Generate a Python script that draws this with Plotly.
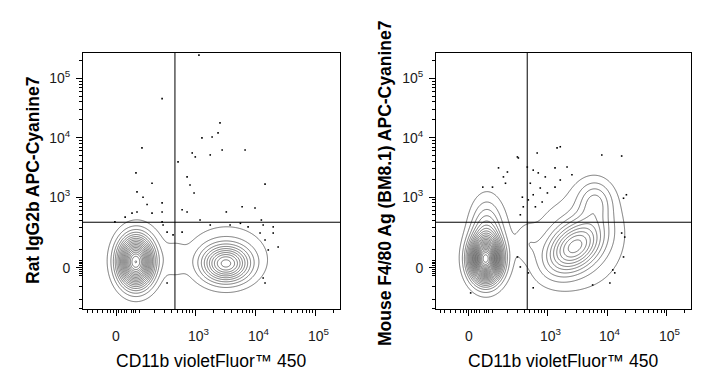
import numpy as np
import plotly.graph_objects as go

W, H = 727, 390
FONT = "Arial, Liberation Sans, sans-serif"

# ---------------- axis transform (biexponential-like display) ----------------
X_COF = 95.0
Y_COF = 130.0
LN10 = np.log(10.0)


def tx(v):
    return np.arcsinh(np.asarray(v, float) / X_COF) / LN10


def ty(v):
    return np.arcsinh(np.asarray(v, float) / Y_COF) / LN10


# ---------------- axes / ticks ----------------
x_range_values = [-155, 255000]
y_range_values = [-305, 266000]
major_tick_values = [0, 1e3, 1e4, 1e5]
major_tick_labels = ["0", "10<sup>3</sup>", "10<sup>4</sup>", "10<sup>5</sup>"]
x_minor_values = [-125, -100, -75, -50, -30, -20, -10, 10, 20, 30, 40, 60, 70, 80,
                  100, 200, 300, 400, 500, 600, 700, 800, 900,
                  2e3, 3e3, 4e3, 5e3, 6e3, 7e3, 8e3, 9e3,
                  2e4, 3e4, 4e4, 5e4, 6e4, 7e4, 8e4, 9e4, 2e5]
y_minor_values = [-300, -200, -100, -40, -30, -20, -10, 10, 20, 30, 40,
                  100, 200, 300, 400, 500, 600, 700, 800, 900,
                  2e3, 3e3, 4e3, 5e3, 6e3, 7e3, 8e3, 9e3,
                  2e4, 3e4, 4e4, 5e4, 6e4, 7e4, 8e4, 9e4, 2e5]

x_title = "CD11b violetFluor™ 450"
y_title_left = "Rat IgG2b APC-Cyanine7"
y_title_right = "Mouse F4/80 Ag (BM8.1) APC-Cyanine7"

# quadrant gate (intensity units)
gate_x = 450
gate_y = 370

# ---------------- populations (density components) ----------------
# centre in intensity units, spreads in decades on display scale, angle in degrees, relative peak
left_cx = [79, 94, 3210, 3360, 448]
left_cy = [30, 79, 21, 79, 40]
left_sa = [0.19, 0.30, 0.26, 0.55, 0.13]
left_sb = [0.27, 0.40, 0.20, 0.42, 0.20]
left_ang = [0, 0, 0, 0, 0]
left_amp = [18, 1.1, 10, 1.6, 1.1]

right_cx = [66, 71, 71, 2850, 6260, 3360, 448]
right_cy = [42, 242, 160, 120, 851, 150, 151]
right_sa = [0.17, 0.17, 0.26, 0.36, 0.20, 0.62, 0.13]
right_sb = [0.24, 0.35, 0.55, 0.24, 0.24, 0.70, 0.20]
right_ang = [0, 0, 0, 40, 0, 30, 0]
right_amp = [22, 4.0, 1.1, 9, 3.5, 1.6, 1.1]

# ---------------- outlier events (intensity units) ----------------
left_dots_x = [1140, 270, 2560, 1890, 1280, 2375, 2780, 1760, 990, 880, 6700, 111, 80, 508,
               722, 808, 945, 14400, 177, 85, 117, 142, 270, 177, 270, 3260, 5980, 9800,
               595, 722, 85, 62, 1190, 1760, 3770, 5600, 7520, 13400, 19700, 19700, 11900,
               14400, 23800, 16300, 281, 330, 270, 418, 595, 13400, 14400, 330, -4, 34, 12500]
left_dots_y = [245000, 45500, 17800, 10300, 9950, 12100, 6240, 5150, 4770, 5560, 6240, 6760,
               2570, 3940, 2200, 1610, 1180, 1660, 1720, 1230, 1000, 750, 800, 535, 560, 560,
               686, 656, 610, 560, 560, 535, 405, 330, 330, 354, 305, 330, 305, 234, 234, 170,
               117, 98, 330, 244, 376, 216, 244, -52, -80, -80, 376, 455, 405]

right_dots_x = [1630, 1440, 8120, 17500, 316, 304, 665, 135, 201, 169, 451, 570, 694, 912,
                1330, 2120, 2560, 1630, 1330, 54, 100, 185, 508, 750, 570, 470, 620, 808, 990,
                371, 385, 342, 21000, 18800, 17500, 19700, 18800, 12400, 13400, 304, 342, 570,
                470, 5700, 11100, 7]
right_dots_y = [7070, 6760, 5150, 4940, 4580, 4770, 5560, 3120, 2660, 2200, 3220, 2860, 2570,
                2200, 3120, 3220, 2390, 1950, 1480, 1480, 1480, 1720, 1720, 1430, 1100, 900,
                686, 830, 1180, 1000, 686, 500, 1100, 960, 234, 195, 57, -10, -25, 57, 5, -110,
                -25, -92, -80, -146]

# ---------------- density grids ----------------
gx = np.linspace(-0.6, 3.8, 380)
gy = np.linspace(-0.75, 3.65, 380)
GX, GY = np.meshgrid(gx, gy)


def density(cx, cy, sa, sb, ang, amp):
    z = np.zeros_like(GX)
    for x0, y0, a, b, t, w in zip(tx(cx), ty(cy), sa, sb, ang, amp):
        th = np.deg2rad(t)
        dx, dy = GX - x0, GY - y0
        u = (dx * np.cos(th) + dy * np.sin(th)) / a
        v = (-dx * np.sin(th) + dy * np.cos(th)) / b
        z += w * np.exp(-0.5 * (u * u + v * v))
    return z


z_left = density(left_cx, left_cy, left_sa, left_sb, left_ang, left_amp)
z_right = density(right_cx, right_cy, right_sa, right_sb, right_ang, right_amp)

LINE_COL = "#4a4a4a"
fig = go.Figure()
for z, xa, ya in [(z_left, "x", "y"), (z_right, "x2", "y2")]:
    fig.add_trace(go.Contour(
        x=gx, y=gy, z=z, xaxis=xa, yaxis=ya,
        autocontour=False,
        contours=dict(start=1, end=40, size=1, coloring="none"),
        line=dict(color=LINE_COL, width=0.75, smoothing=1),
        showscale=False, hoverinfo="skip",
    ))

for dxs, dys, xa, ya in [(left_dots_x, left_dots_y, "x", "y"),
                         (right_dots_x, right_dots_y, "x2", "y2")]:
    fig.add_trace(go.Scatter(
        x=tx(dxs), y=ty(dys), xaxis=xa, yaxis=ya, mode="markers",
        marker=dict(size=1.6, color="#000000", symbol="square", line=dict(width=0)),
        hoverinfo="skip", showlegend=False,
    ))


def xaxis_cfg(domain):
    return dict(
        domain=domain, range=list(tx(x_range_values)), showgrid=False, zeroline=False,
        showline=True, mirror=True, linecolor="black", linewidth=1,
        tickmode="array", tickvals=list(tx(major_tick_values)), ticktext=major_tick_labels,
        showticklabels=False,
        ticks="outside", ticklen=6, tickwidth=1, tickcolor="black",
        minor=dict(tickmode="array", tickvals=list(tx(x_minor_values)), ticks="outside",
                   ticklen=3, tickwidth=1, tickcolor="black", showgrid=False),
        fixedrange=True,
    )


def yaxis_cfg(domain, anchor):
    return dict(
        domain=domain, anchor=anchor, range=list(ty(y_range_values)), showgrid=False,
        zeroline=False, showline=True, mirror=True, linecolor="black", linewidth=1,
        tickmode="array", tickvals=list(ty(major_tick_values)), ticktext=major_tick_labels,
        ticks="outside", ticklen=6, tickwidth=1, tickcolor="black",
        minor=dict(tickmode="array", tickvals=list(ty(y_minor_values)), ticks="outside",
                   ticklen=3, tickwidth=1, tickcolor="black", showgrid=False),
        tickfont=dict(family=FONT, size=14, color="#1a1a1a"),
        ticklabelstandoff=3, fixedrange=True,
    )


ydom = [81 / H, 337 / H]
xdom_l = [83 / W, 340 / W]
xdom_r = [436 / W, 691 / W]

shapes = []
for xa, ya in [("x", "y"), ("x2", "y2")]:
    shapes.append(dict(type="line", xref=xa, yref=ya + " domain", x0=float(tx(gate_x)),
                       x1=float(tx(gate_x)), y0=0, y1=1, line=dict(color="black", width=1)))
    shapes.append(dict(type="line", xref=xa + " domain", yref=ya, x0=0, x1=1,
                       y0=float(ty(gate_y)), y1=float(ty(gate_y)),
                       line=dict(color="black", width=1)))

annotations = []
# x tick labels (placed under the axis ticks)
for xa in ["x", "x2"]:
    for val, lab in zip(major_tick_values, major_tick_labels):
        annotations.append(dict(
            text=lab, x=float(tx(val)), xref=xa, y=1 - 346 / H, yref="paper",
            showarrow=False, xanchor="center", yanchor="bottom",
            xshift=0 if lab == "0" else 3,
            font=dict(family=FONT, size=14, color="#1a1a1a")))

annotations += [
    dict(text=x_title, x=211.5 / W, y=1 - 361 / H, xref="paper", yref="paper",
         showarrow=False, xanchor="center", yanchor="middle",
         font=dict(family=FONT, size=17.5, color="black")),
    dict(text=x_title, x=563.5 / W, y=1 - 361 / H, xref="paper", yref="paper",
         showarrow=False, xanchor="center", yanchor="middle",
         font=dict(family=FONT, size=17.5, color="black")),
    dict(text="<b>" + y_title_left + "</b>", x=33 / W, y=1 - 181 / H, xref="paper",
         yref="paper", showarrow=False, textangle=-90, xanchor="center", yanchor="middle",
         font=dict(family=FONT, size=17.5, color="black")),
    dict(text="<b>" + y_title_right + "</b>", x=385 / W, y=1 - 184 / H, xref="paper",
         yref="paper", showarrow=False, textangle=-90, xanchor="center", yanchor="middle",
         font=dict(family=FONT, size=17.5, color="black")),
]

fig.update_layout(
    width=W, height=H, margin=dict(l=0, r=0, t=0, b=0),
    paper_bgcolor="white", plot_bgcolor="white", showlegend=False,
    xaxis=xaxis_cfg(xdom_l) | dict(anchor="y"),
    yaxis=yaxis_cfg(ydom, "x"),
    xaxis2=xaxis_cfg(xdom_r) | dict(anchor="y2"),
    yaxis2=yaxis_cfg(ydom, "x2"),
    shapes=shapes, annotations=annotations,
)

fig.write_html("out.html", config=dict(displayModeBar=False))
